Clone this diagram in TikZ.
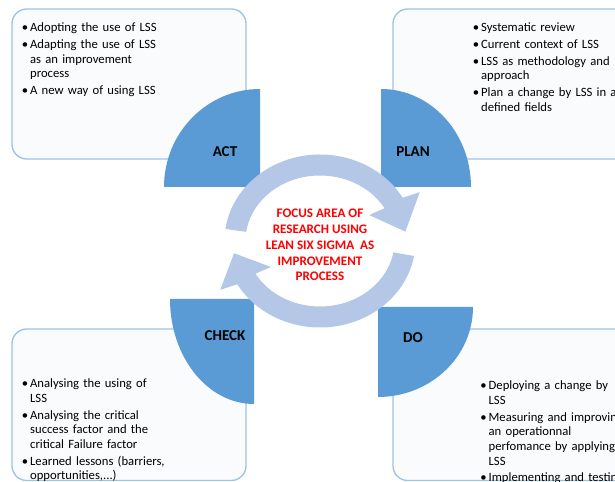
\documentclass[tikz,border=0pt]{standalone}
\usepackage{fontspec}
\setmainfont{Carlito}

\definecolor{wedgeblue}{RGB}{91,155,213}
\definecolor{ringblue}{RGB}{180,199,231}
\definecolor{boxline}{RGB}{157,195,230}
\definecolor{boxfill}{RGB}{250,251,253}
\definecolor{focusred}{RGB}{255,0,0}

% bullet points with a hanging indent
\newcommand{\bul}{\par\hangindent=6.3pt\hangafter=1\noindent\makebox[6.3pt][l]{\textbullet}}
\newcommand{\nextbul}{\par\vspace{1.5pt}\bul}

\begin{document}
\begin{tikzpicture}
    [
    x=0.75pt, y=0.75pt,
    notebox/.style={draw=boxline,fill=boxfill,line width=1pt,rounded corners=11pt},
    wedge/.style={fill=wedgeblue},
    ring/.style={fill=ringblue},
    phase/.style={inner sep=0pt,font=\fontsize{11.3}{13}\selectfont\bfseries},
    notes/.style={inner sep=0pt,anchor=north west,text width=140pt,align=left,font=\fontsize{9.5}{11}\selectfont},
    focus/.style={inner sep=0pt,align=center,text=focusred,font=\fontsize{9.8}{11.9}\selectfont\bfseries}
    ]
    \useasboundingbox (0,0) rectangle (615,482);
    \clip (0,0) rectangle (615,482);

    % the four note boxes
    \draw [notebox] (12,323) rectangle (246,473);
    \draw [notebox] (393,323) rectangle (660,473);
    \draw [notebox] (12,1.5) rectangle (246,153);
    \draw [notebox] (393,1.5) rectangle (660,153);

    % quarter discs
    \fill [wedge] (260,295) -- (164,295) arc [start angle=180, end angle=90, x radius=96, y radius=98] -- cycle;
    \fill [wedge] (381,295) -- (471,295) arc [start angle=0, end angle=90, x radius=90, y radius=98] -- cycle;
    \fill [wedge] (254,183) -- (170,183) arc [start angle=180, end angle=270, x radius=84, y radius=105] -- cycle;
    \fill [wedge] (378,175) -- (473,175) arc [start angle=0, end angle=-90, x radius=95, y radius=90] -- cycle;

    % cycle arrows
    \begin{scope}[shift={(320,241)}]
    \fill [ring] (172:95.5 and 86.5) arc [start angle=172, end angle=30, x radius=95.5, y radius=86.5]
        -- (28:113 and 104) -- (7:86 and 77) -- (32:58 and 49)
        -- (30:74.5 and 65.5) arc [start angle=30, end angle=172, x radius=74.5, y radius=65.5] -- cycle;
    \fill [ring] (-10:95.5 and 86.5) arc [start angle=-10, end angle=-150, x radius=95.5, y radius=86.5]
        -- (208:113 and 104) -- (189:87 and 78) -- (212:58 and 49)
        -- (210:74.5 and 65.5) arc [start angle=-150, end angle=-10, x radius=74.5, y radius=65.5] -- cycle;
    \end{scope}

    \node (act) at (225,330) [phase] {ACT};
    \node (plan) at (413,330) [phase] {PLAN};
    \node (check) at (225,146) [phase] {CHECK};
    \node (do) at (413,144) [phase] {DO};

    \node (focus) at (320,237) [focus] {FOCUS AREA OF\\RESEARCH USING\\LEAN SIX SIGMA~~AS\\IMPROVEMENT\\PROCESS};

    \node (actnotes) at (21.5,465) [notes] {\bul Adopting the use of LSS
        \nextbul Adapting the use of LSS\newline as an improvement\newline process
        \nextbul A new way of using LSS\par};
    \node (plannotes) at (472.5,465) [notes] {\bul Systematic review
        \nextbul Current context of LSS
        \nextbul LSS as methodology and\newline approach
        \nextbul Plan a change by LSS in a\newline defined fields\par};
    \node (checknotes) at (21.5,109) [notes] {\bul Analysing the using of\newline LSS
        \nextbul Analysing the critical\newline success factor and the\newline critical Failure factor
        \nextbul Learned lessons (barriers,\newline opportunities,...)\par};
    \node (donotes) at (480,107) [notes] {\bul Deploying a change by\newline LSS
        \nextbul Measuring and improving\newline an operationnal\newline perfomance by applying\newline LSS
        \nextbul Implementing and testing\par};
\end{tikzpicture}
\end{document}
